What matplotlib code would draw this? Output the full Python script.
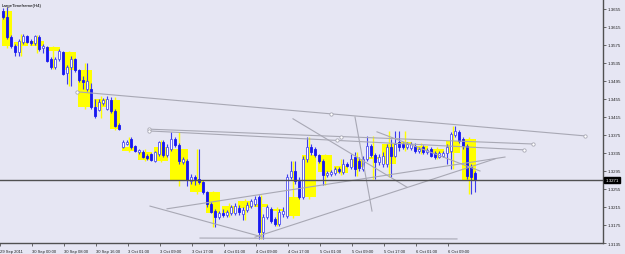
import matplotlib
matplotlib.use("Agg")
import matplotlib.pyplot as plt
from matplotlib.patches import Rectangle
from matplotlib.transforms import blended_transform_factory

# ---------------- data (H1 candles) ----------------
opens = [1.3651, 1.3637, 1.3593, 1.3573, 1.3559, 1.3582, 1.3595, 1.3584, 1.3579, 1.3593,
         1.3568, 1.3571, 1.3544, 1.3526, 1.3544, 1.3559, 1.3513, 1.3526, 1.3544, 1.3519,
         1.3497, 1.3477, 1.3477, 1.3437, 1.3431, 1.3446, 1.3433, 1.3453, 1.3428, 1.3397,
         1.3348, 1.3355, 1.3366, 1.3351, 1.3337, 1.3337, 1.3328, 1.3333, 1.3317, 1.3333,
         1.3359, 1.3331, 1.3344, 1.3366, 1.3353, 1.3315, 1.3317, 1.3273, 1.3282, 1.3277,
         1.3271, 1.3248, 1.3222, 1.3206, 1.3193, 1.3202, 1.3197, 1.3202, 1.3202, 1.3213,
         1.3199, 1.3208, 1.3217, 1.3222, 1.3237, 1.3159, 1.3193, 1.3211, 1.3188, 1.3177,
         1.3199, 1.3195, 1.3282, 1.3295, 1.3273, 1.3237, 1.3322, 1.3348, 1.3344, 1.3331,
         1.3317, 1.3286, 1.3288, 1.3291, 1.3299, 1.3293, 1.3311, 1.3304, 1.3326, 1.3317,
         1.3299, 1.3322, 1.3351, 1.3331, 1.3315, 1.3311, 1.3311, 1.3348, 1.3328, 1.3359,
         1.3355, 1.3348, 1.3346, 1.3351, 1.3340, 1.3348, 1.3337, 1.3344, 1.3335, 1.3326,
         1.3328, 1.3335, 1.3340, 1.3375, 1.3382, 1.3366, 1.3351, 1.3304, 1.3291]
closes = [1.3637, 1.3593, 1.3573, 1.3559, 1.3584, 1.3595, 1.3582, 1.3579, 1.3595, 1.3566,
          1.3573, 1.3540, 1.3526, 1.3544, 1.3562, 1.3511, 1.3526, 1.3544, 1.3519, 1.3497,
          1.3493, 1.3495, 1.3437, 1.3417, 1.3448, 1.3453, 1.3455, 1.3428, 1.3395, 1.3388,
          1.3359, 1.3359, 1.3348, 1.3340, 1.3342, 1.3326, 1.3324, 1.3319, 1.3337, 1.3359,
          1.3331, 1.3348, 1.3366, 1.3353, 1.3317, 1.3322, 1.3275, 1.3282, 1.3277, 1.3271,
          1.3248, 1.3222, 1.3204, 1.3193, 1.3202, 1.3197, 1.3204, 1.3215, 1.3217, 1.3204,
          1.3208, 1.3219, 1.3228, 1.3233, 1.3159, 1.3193, 1.3215, 1.3184, 1.3177, 1.3204,
          1.3206, 1.3282, 1.3295, 1.3273, 1.3237, 1.3322, 1.3348, 1.3337, 1.3331, 1.3317,
          1.3286, 1.3291, 1.3293, 1.3299, 1.3295, 1.3311, 1.3306, 1.3322, 1.3299, 1.3302,
          1.3322, 1.3351, 1.3331, 1.3315, 1.3326, 1.3328, 1.3348, 1.3328, 1.3355, 1.3348,
          1.3348, 1.3355, 1.3355, 1.3340, 1.3344, 1.3337, 1.3342, 1.3328, 1.3326, 1.3335,
          1.3335, 1.3348, 1.3377, 1.3384, 1.3362, 1.3351, 1.3284, 1.3282, 1.3275]
highs = [1.3657, 1.3659, 1.3597, 1.3577, 1.3588, 1.3599, 1.3597, 1.3588, 1.3597, 1.3597,
         1.3577, 1.3573, 1.3548, 1.3548, 1.3566, 1.3562, 1.3531, 1.3551, 1.3546, 1.3522,
         1.3506, 1.3535, 1.3491, 1.3455, 1.3455, 1.3457, 1.3462, 1.3459, 1.3433, 1.3402,
         1.3364, 1.3364, 1.3371, 1.3353, 1.3344, 1.3342, 1.3333, 1.3335, 1.3340, 1.3362,
         1.3364, 1.3355, 1.3382, 1.3371, 1.3357, 1.3326, 1.3322, 1.3288, 1.3286, 1.3344,
         1.3273, 1.3251, 1.3226, 1.3211, 1.3206, 1.3211, 1.3208, 1.3219, 1.3224, 1.3219,
         1.3215, 1.3226, 1.3233, 1.3239, 1.3242, 1.3199, 1.3219, 1.3215, 1.3193, 1.3211,
         1.3215, 1.3288, 1.3317, 1.3317, 1.3282, 1.3328, 1.3371, 1.3355, 1.3348, 1.3333,
         1.3322, 1.3295, 1.3297, 1.3304, 1.3304, 1.3322, 1.3315, 1.3333, 1.3337, 1.3326,
         1.3328, 1.3373, 1.3355, 1.3335, 1.3333, 1.3337, 1.3355, 1.3366, 1.3384, 1.3384,
         1.3359, 1.3359, 1.3359, 1.3357, 1.3348, 1.3353, 1.3346, 1.3348, 1.3340, 1.3340,
         1.3340, 1.3355, 1.3382, 1.3395, 1.3386, 1.3371, 1.3355, 1.3311, 1.3295]
lows = [1.3633, 1.3588, 1.3568, 1.3551, 1.3551, 1.3577, 1.3579, 1.3575, 1.3575, 1.3562,
        1.3557, 1.3537, 1.3522, 1.3522, 1.3540, 1.3508, 1.3488, 1.3484, 1.3515, 1.3493,
        1.3477, 1.3473, 1.3433, 1.3413, 1.3428, 1.3442, 1.3431, 1.3424, 1.3393, 1.3386,
        1.3346, 1.3353, 1.3344, 1.3337, 1.3333, 1.3324, 1.3319, 1.3317, 1.3315, 1.3328,
        1.3326, 1.3326, 1.3340, 1.3348, 1.3311, 1.3311, 1.3262, 1.3266, 1.3264, 1.3266,
        1.3244, 1.3215, 1.3202, 1.3171, 1.3188, 1.3193, 1.3193, 1.3197, 1.3197, 1.3197,
        1.3186, 1.3204, 1.3213, 1.3217, 1.3144, 1.3144, 1.3188, 1.3179, 1.3173, 1.3173,
        1.3193, 1.3190, 1.3277, 1.3266, 1.3233, 1.3233, 1.3315, 1.3331, 1.3326, 1.3313,
        1.3264, 1.3282, 1.3284, 1.3286, 1.3291, 1.3288, 1.3304, 1.3299, 1.3284, 1.3295,
        1.3295, 1.3317, 1.3326, 1.3277, 1.3308, 1.3304, 1.3304, 1.3282, 1.3326, 1.3340,
        1.3344, 1.3344, 1.3342, 1.3335, 1.3335, 1.3333, 1.3333, 1.3326, 1.3322, 1.3324,
        1.3326, 1.3311, 1.3299, 1.3371, 1.3357, 1.3344, 1.3277, 1.3244, 1.3248]

# first H1 bar of each H4 period (LargeTimeframe indicator boxes)
h4_starts = [0, 3, 7, 11, 15, 19, 23, 27, 30, 34, 38, 42, 47, 51, 55, 59, 63, 67, 71,
             75, 79, 83, 87, 91, 95, 99, 103, 107, 111, 115]

# selected trend lines (with anchor markers): bar0, price0, bar1, price1
sel_bar0 = [18.5, 36.5, 36.5]
sel_price0 = [1.3471, 1.3388, 1.3384]
sel_bar1 = [145.5, 132.5, 130.25]
sel_price1 = [1.3373, 1.3355, 1.3342]

# other trend lines
tl_bar0 = [41.0, 63.0, 72.5, 88.0, 93.5, 49.25, 36.75]
tl_price0 = [1.3211, 1.3148, 1.3411, 1.3415, 1.3382, 1.3146, 1.3217]
tl_bar1 = [125.5, 123.0, 101.0, 92.25, 119.25, 113.5, 65.0]
tl_price1 = [1.3326, 1.3322, 1.3259, 1.3206, 1.3295, 1.3144, 1.3148]

current_price = 1.3275
current_label = "1.3271"

y_ticks = [1.3655, 1.3615, 1.3575, 1.3535, 1.3495, 1.3455, 1.3415, 1.3375,
           1.3335, 1.3295, 1.3255, 1.3215, 1.3175, 1.3135]
x_tick_bars = [0, 8, 16, 24, 32, 40, 48, 56, 64, 72, 80, 88, 96, 104, 112]
x_tick_labels = ["29 Sep 2011", "30 Sep 00:00", "30 Sep 08:00", "30 Sep 16:00",
                 "3 Oct 01:00", "3 Oct 09:00", "3 Oct 17:00", "4 Oct 01:00",
                 "4 Oct 09:00", "4 Oct 17:00", "5 Oct 01:00", "5 Oct 09:00",
                 "5 Oct 17:00", "6 Oct 01:00", "6 Oct 09:00"]
title = "LargeTimeframe(H4)"

# ---------------- styling ----------------
BG = "#E6E6F3"
BLUE = "#1818F0"
WICK = "#3C3CF0"
YELLOW = "#FFFF00"
GRAY = "#A8A8B4"
FONT = "Liberation Sans"

W, H = 625, 255
fig = plt.figure(figsize=(W / 100, H / 100), dpi=100, facecolor=BG)
ax = fig.add_axes([0, 11 / H, 603 / W, 244 / H], facecolor=BG)

n = len(opens)
bw = 0.74

# H4 boxes
for k, s in enumerate(h4_starts):
    e = h4_starts[k + 1] - 1 if k + 1 < len(h4_starts) else n - 1
    o = opens[s]
    c = closes[e]
    hi = max(highs[s:e + 1])
    lo = min(lows[s:e + 1])
    cx = (s + e) / 2
    ax.plot([cx, cx], [lo, hi], color=YELLOW, lw=1.0, zorder=1, solid_capstyle="butt")
    ax.add_patch(Rectangle((s - bw / 2, min(o, c)), (e - s) + bw, abs(c - o),
                           facecolor=YELLOW, edgecolor="none", zorder=1.5))

# H1 candles
for i in range(n):
    o, c, hi, lo = opens[i], closes[i], highs[i], lows[i]
    ax.plot([i, i], [lo, hi], color=WICK, lw=0.8, zorder=2, solid_capstyle="butt")
    bear = c < o
    ax.add_patch(Rectangle((i - bw / 2, min(o, c)), bw, max(abs(c - o), 0.00003),
                           facecolor=BLUE if bear else "white",
                           edgecolor=BLUE if bear else "#5050F0", lw=0.6, zorder=3))

# trend lines
for b0, p0, b1, p1 in zip(tl_bar0, tl_price0, tl_bar1, tl_price1):
    ax.plot([b0, b1], [p0, p1], color=GRAY, lw=0.8, zorder=4)
for b0, p0, b1, p1 in zip(sel_bar0, sel_price0, sel_bar1, sel_price1):
    ax.plot([b0, b1], [p0, p1], color=GRAY, lw=0.8, zorder=4)
    ax.plot([b0, (b0 + b1) / 2, b1], [p0, (p0 + p1) / 2, p1], ls="none", marker="o",
            ms=2.4, mfc="white", mec=GRAY, mew=0.6, zorder=4)

# current price line
ax.axhline(current_price, color="#505050", lw=1.0, zorder=4.5)

ax.set_xlim(-0.75, 150)
ax.set_ylim(1.3135, 1.36772)

for s in ["left", "top"]:
    ax.spines[s].set_visible(False)
for s in ["right", "bottom"]:
    ax.spines[s].set_color("#505050")
    ax.spines[s].set_linewidth(1.0)

ax.yaxis.tick_right()
ax.set_yticks(y_ticks)
ax.set_yticklabels([f"{v:.4f}" for v in y_ticks], fontsize=3.2, family=FONT, color="#202020")
ax.tick_params(axis="y", length=2, width=0.6, pad=1.5, colors="#505050", labelcolor="#202020")

ax.set_xticks([b - 0.75 for b in x_tick_bars])
ax.set_xticklabels(x_tick_labels, fontsize=3.0, family=FONT, ha="left", color="#202020")
ax.tick_params(axis="x", length=2, width=0.6, pad=2, colors="#505050", labelcolor="#202020")

trans = blended_transform_factory(ax.transAxes, ax.transData)
ax.text(1.004, current_price, current_label, transform=trans, fontsize=3.2, family=FONT,
        color="white", va="center", ha="left",
        bbox=dict(boxstyle="square,pad=0.25", facecolor="black", edgecolor="black"),
        zorder=10, clip_on=False)

ax.text(0.003, 0.985, title, transform=ax.transAxes, fontsize=3.2, family=FONT,
        color="black", va="top", ha="left")

fig.savefig("out.png", dpi=100, facecolor=BG)
